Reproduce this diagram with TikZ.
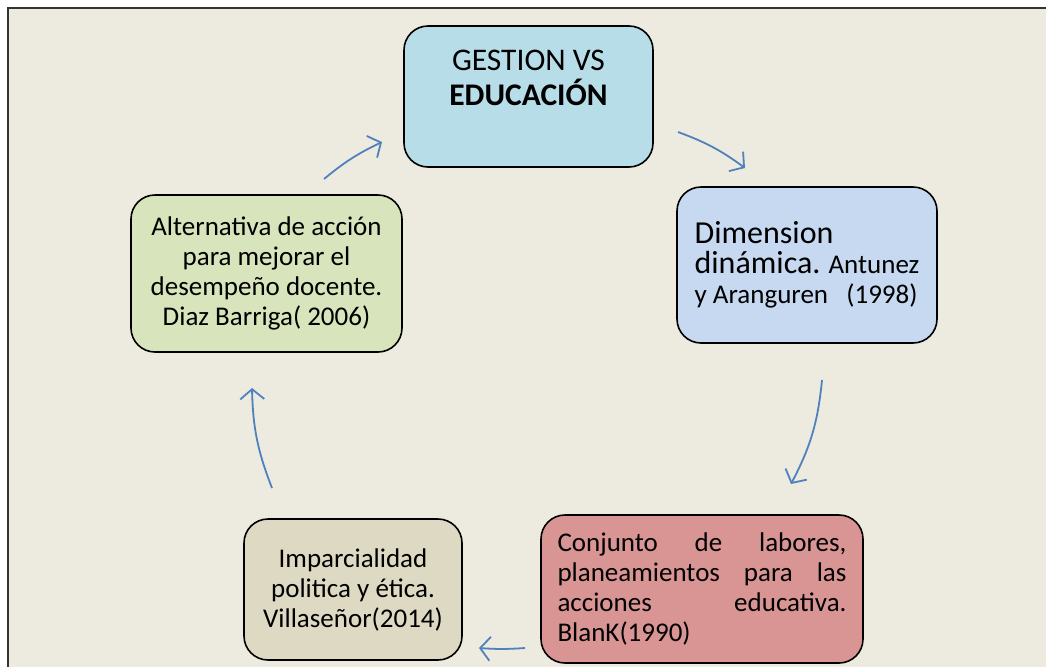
\documentclass[tikz,border=0pt]{standalone}
\usepackage{fontspec}
\setmainfont{Carlito}
\usetikzlibrary{arrows.meta,positioning}
\definecolor{paper}{RGB}{237,234,224}
\definecolor{boxblue}{RGB}{183,221,232}
\definecolor{boxsky}{RGB}{198,217,241}
\definecolor{boxrose}{RGB}{217,149,148}
\definecolor{boxsand}{RGB}{221,217,195}
\definecolor{boxolive}{RGB}{215,228,188}
\definecolor{flow}{RGB}{79,129,189}
\newcommand{\diagtext}{\fontsize{27}{30}\selectfont}
\newcommand{\diagtextbig}{\fontsize{32}{34}\selectfont}
\newcommand{\diagtexttop}{\fontsize{31.5}{35}\selectfont}

\begin{document}
\begin{tikzpicture}[x=1pt, y=-1pt,
	stage/.style={draw=black, line width=1.6pt, rounded corners=24pt, inner sep=0pt, font=\diagtext},
	flowarrow/.style={draw=flow, line width=1.8pt, -{Straight Barb[length=10pt,width=24pt]}}]
	\useasboundingbox (0,0) rectangle (1046,667);
	% The frame:
	\fill[paper] (8,8) rectangle (1046,667);
	\draw[black!80, line width=2.4pt] (1046,8) -- (8,8) -- (8,667);
	% Stages:
	\node[stage, fill=boxblue, minimum width=249pt, minimum height=141pt] (gestion) at (528.5,96.5) {};
	\node[font=\diagtexttop, align=center, inner sep=0pt, below=25pt of gestion.north] (gestxt)
		{GESTION VS\\\textbf{EDUCACIÓN}};
	\node[stage, fill=boxsky, minimum width=260pt, minimum height=156pt, align=left] (dimension) at (807,265)
		{{\diagtextbig Dimension}\\{\diagtextbig dinámica.} Antunez\\y Aranguren\ \ \ (1998)};
	\node[stage, fill=boxrose, minimum width=322pt, minimum height=148pt, text width=289pt, align=left] (conjunto) at (702,589)
		{\makebox[289pt][s]{Conjunto\hfill de\hfill labores,}\\
		 \makebox[289pt][s]{planeamientos\hfill para\hfill las}\\
		 \makebox[289pt][s]{acciones\hfill educativa.}\\
		 BlanK(1990)};
	\node[stage, fill=boxsand, minimum width=218pt, minimum height=141pt, align=center] (imparcial) at (353,589.5)
		{Imparcialidad\\politica y ética.\\Villaseñor(2014)};
	\node[stage, fill=boxolive, minimum width=271pt, minimum height=157pt, align=center] (alternativa) at (266.5,273.5)
		{Alternativa de acción\\para mejorar el\\desempeño docente.\\Diaz Barriga( 2006)};
	% Arrow ends:
	\coordinate (a1s) at (678,132);  \coordinate (a1e) at (745,168);
	\coordinate (a2s) at (822,380);  \coordinate (a2e) at (791,484);
	\coordinate (a3s) at (525,648);  \coordinate (a3e) at (479,648);
	\coordinate (a4s) at (272,488);  \coordinate (a4e) at (252,388);
	\coordinate (a5s) at (324,179);  \coordinate (a5e) at (382,142);
	% Cycle arrows:
	\draw[flowarrow] (a1s) to[bend left=8] (a1e);
	\draw[flowarrow] (a2s) to[bend left=11] (a2e);
	\draw[flowarrow] (a3s) to[bend left=4] (a3e);
	\draw[flowarrow] (a4s) to[bend left=10] (a4e);
	\draw[flowarrow] (a5s) to[bend left=7] (a5e);
\end{tikzpicture}
\end{document}
